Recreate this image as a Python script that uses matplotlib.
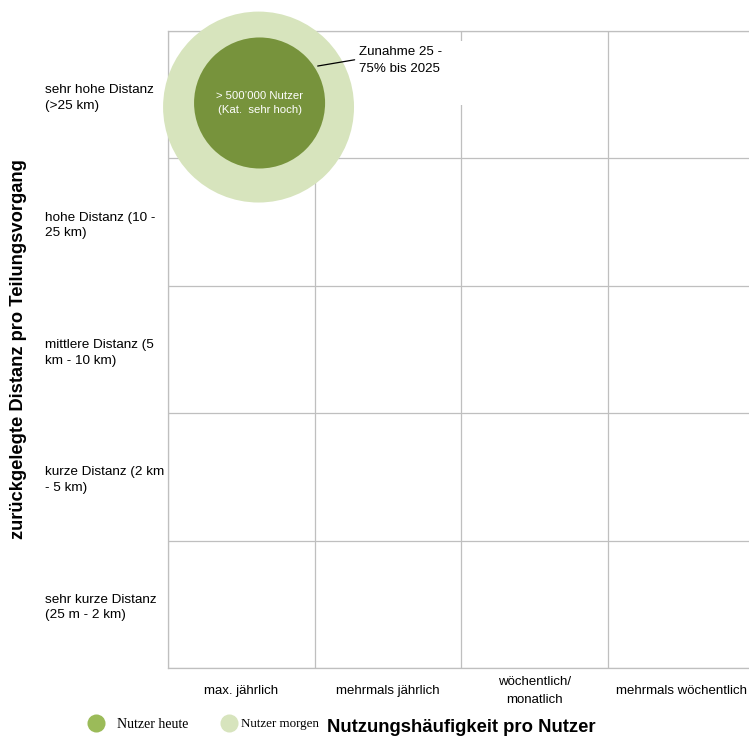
import matplotlib.pyplot as plt
from matplotlib.lines import Line2D
from matplotlib.patches import Rectangle

# data
freq_labels = ["max. jährlich", "mehrmals jährlich", "wöchentlich/\nmonatlich",
               "mehrmals wöchentlich"]
dist_labels = ["sehr kurze Distanz\n(25 m - 2 km)", "kurze Distanz (2 km\n- 5 km)",
               "mittlere Distanz (5\nkm - 10 km)", "hohe Distanz (10 -\n25 km)",
               "sehr hohe Distanz\n(>25 km)"]
today_x = [0.624]
today_y = [4.435]
today_size = [8900]
tomorrow_x = [0.617]
tomorrow_y = [4.403]
tomorrow_size = [18900]
bubble_text = "> 500’000 Nutzer\n(Kat.  sehr hoch)"
growth_text = "Zunahme 25 -\n75% bis 2025"
legend_labels = ["Nutzer heute", "Nutzer morgen"]

c_today = "#77933c"
c_tomorrow = "#d7e4bd"
c_legend_today = "#9bbb59"
c_grid = "#bfbfbf"

plt.rcParams["font.family"] = ["Liberation Sans", "DejaVu Sans"]

fig = plt.figure(figsize=(7.49, 7.37), dpi=100)
ax = fig.add_axes([168 / 749, 69 / 737, 587 / 749, 637 / 737])
ax.set_xlim(0, len(freq_labels))
ax.set_ylim(0, len(dist_labels))

ax.set_xticks([i + 0.5 for i in range(len(freq_labels))])
ax.set_xticklabels(freq_labels, fontsize=9.5, linespacing=1.6, va="center")
ax.set_yticks([i + 0.5 for i in range(len(dist_labels))])
ax.set_yticklabels(dist_labels, fontsize=9.7, ha="left", linespacing=1.4)
ax.tick_params(axis="both", which="major", length=0)
ax.tick_params(axis="y", pad=88.5)
ax.tick_params(axis="x", pad=16.5)
ax.set_xticks(range(len(freq_labels) + 1), minor=True)
ax.set_yticks(range(len(dist_labels) + 1), minor=True)
ax.tick_params(which="minor", length=0)
ax.grid(which="minor", color=c_grid, linewidth=0.9)
for s in ax.spines.values():
    s.set_color(c_grid)
    s.set_linewidth(0.9)

# white text box covering part of the grid
ax.add_patch(Rectangle((1.27, 4.42), 0.745, 0.5, facecolor="white",
                       edgecolor="none", zorder=2))

ax.scatter(tomorrow_x, tomorrow_y, s=tomorrow_size, color=c_tomorrow,
           edgecolors="none", zorder=3, clip_on=False)
ax.scatter(today_x, today_y, s=today_size, color=c_today,
           edgecolors="none", zorder=4, clip_on=False)
ax.text(today_x[0], today_y[0], bubble_text, color="white", fontsize=8.2,
        ha="center", va="center", linespacing=1.4, zorder=5)

ax.annotate(growth_text, xy=(1.02, 4.725), xytext=(1.30, 4.768),
            fontsize=9.6, ha="left", va="center", linespacing=1.6, zorder=5,
            arrowprops=dict(arrowstyle="-", color="black", lw=0.9,
                            shrinkA=1, shrinkB=0, relpos=(0, 0.55)))

fig.text(19 / 749, 1 - 349 / 737, "zurückgelegte Distanz pro Teilungsvorgang",
         rotation=90, ha="center", va="center", fontsize=13.2, fontweight="bold")
fig.text(461 / 749, 1 - 728 / 737, "Nutzungshäufigkeit pro Nutzer",
         ha="center", va="center", fontsize=13.3, fontweight="bold")

# legend, placed by hand as in the original layout
legend_marker_x = [96 / 749, 229 / 749]
legend_text_x = [117 / 749, 241 / 749]
legend_colors = [c_legend_today, c_tomorrow]
legend_sizes = [10, 9.4]
for mx, tx, col, lab, fs in zip(legend_marker_x, legend_text_x, legend_colors,
                                legend_labels, legend_sizes):
    fig.add_artist(Line2D([mx], [1 - 723 / 737], marker="o", linestyle="none",
                          markersize=13, markerfacecolor=col,
                          markeredgecolor="none", transform=fig.transFigure))
    fig.text(tx, 1 - 724 / 737, lab, ha="left", va="center", fontsize=fs,
             family="Liberation Serif")

fig.savefig("out.png", dpi=100)
